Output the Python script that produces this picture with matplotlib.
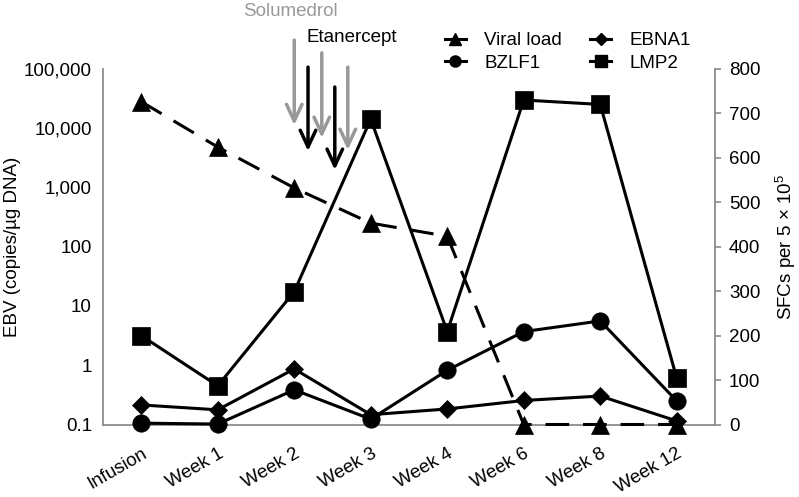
import matplotlib
matplotlib.use("Agg")
import matplotlib.pyplot as plt
from matplotlib.lines import Line2D
from matplotlib.ticker import FixedLocator, FuncFormatter

plt.rcParams['font.family'] = ['Liberation Sans', 'DejaVu Sans']
plt.rcParams['mathtext.default'] = 'regular'
plt.rcParams['lines.scale_dashes'] = False

categories = ["Infusion", "Week 1", "Week 2", "Week 3", "Week 4", "Week 6", "Week 8", "Week 12"]
viral_load = [28000, 4800, 980, 250, 150, 0.1, 0.1, 0.1]
ebna1 = [44, 33, 125, 22, 35, 54, 64, 8]
bzlf1 = [3, 1, 78, 12, 122, 209, 233, 53]
lmp2 = [200, 87, 299, 687, 209, 730, 720, 104]

left_ticks = [0.1, 1, 10, 100, 1000, 10000, 100000]
right_ticks = [0, 100, 200, 300, 400, 500, 600, 700, 800]

FS = 13.5
GRAY = '#8c8c8c'

fig = plt.figure(figsize=(7.99, 4.97), dpi=100)
ax1 = fig.add_axes([103/799, 1 - 424.5/497, (715-103)/799, (424.5-68.9)/497])
ax2 = ax1.twinx()

lw = 2.2
ax1.plot(categories, viral_load, color='black', lw=lw, dashes=(17, 10),
         marker='^', ms=12.5, mew=0.5, clip_on=False, zorder=3)
ax1.set_yscale('log')
ax1.set_ylim(0.1, 100000)
ax1.set_xlim(-0.5, len(categories) - 0.5)
ax1.yaxis.set_major_locator(FixedLocator(left_ticks))
ax1.yaxis.set_minor_locator(FixedLocator([]))
ax1.yaxis.set_major_formatter(FuncFormatter(lambda v, p: ('%g' % v) if v < 1 else f"{int(round(v)):,}"))

ax2.plot(categories, lmp2, color='black', lw=lw, marker='s', ms=12.5, mew=0.5, clip_on=False, zorder=3)
ax2.plot(categories, bzlf1, color='black', lw=lw, marker='o', ms=12.5, mew=0.5, clip_on=False, zorder=3)
ax2.plot(categories, ebna1, color='black', lw=lw, marker='D', ms=9, mew=0.5, clip_on=False, zorder=3)
ax2.set_ylim(0, 800)
ax2.set_yticks(right_ticks)

for ax in (ax1, ax2):
    ax.spines['top'].set_visible(False)
    for s in ('left', 'right', 'bottom'):
        ax.spines[s].set_color(GRAY)
        ax.spines[s].set_linewidth(1.3)
ax1.spines['right'].set_visible(False)
ax2.spines['left'].set_visible(False)
ax2.spines['bottom'].set_visible(False)

ax1.tick_params(axis='y', which='both', length=0, pad=8, labelsize=FS)
ax2.tick_params(axis='y', length=4, width=1.2, color=GRAY, direction='out', pad=6, labelsize=FS)
ax1.tick_params(axis='x', length=0, pad=15, labelsize=FS)
for lab in ax1.get_xticklabels():
    lab.set_rotation(30)
    lab.set_ha('right')
    lab.set_va('top')
    lab.set_rotation_mode('anchor')

ax1.set_ylabel('EBV (copies/\u00b5g DNA)', fontsize=FS)
ax1.yaxis.set_label_coords(-0.134, 0.5)
ax2.set_ylabel('SFCs per 5 \u00d7 10$^5$', fontsize=FS)
ax2.yaxis.set_label_coords(1.097, 0.5)

# Treatment arrows
arrow_x = [2.0, 2.18, 2.36, 2.53, 2.70]
arrow_top = [1.081, 1.005, 1.045, 0.949, 1.005]
arrow_tip = [0.842, 0.769, 0.806, 0.716, 0.772]
arrow_col = ['#999999', 'black', '#999999', 'black', '#999999']
for x, yt, yb, c in zip(arrow_x, arrow_top, arrow_tip, arrow_col):
    ax2.annotate('', xy=(x, yb), xytext=(x, yt), xycoords=('data', 'axes fraction'),
                 textcoords=('data', 'axes fraction'), annotation_clip=False,
                 arrowprops=dict(arrowstyle='->,head_length=0.6,head_width=0.28',
                                 lw=2.5, color=c, shrinkA=0, shrinkB=0, mutation_scale=20))

fig.text(243/799, 1 - 12/497, 'Solumedrol', color='#999999', fontsize=FS, ha='left', va='center')
fig.text(307/799, 1 - 38/497, 'Etanercept', color='black', fontsize=FS, ha='left', va='center')

handles = [
    Line2D([], [], color='black', lw=2.2, marker='^', ms=8),
    Line2D([], [], color='black', lw=2.2, marker='o', ms=8),
    Line2D([], [], color='black', lw=2.2, marker='D', ms=6),
    Line2D([], [], color='black', lw=2.2, marker='s', ms=8),
]
labels = ['Viral load', 'BZLF1', 'EBNA1', 'LMP2']
fig.legend(handles, labels, ncol=2, loc='upper left', bbox_to_anchor=(445/799, 1 - 32/497),
           bbox_transform=fig.transFigure, frameon=False, fontsize=FS, borderpad=0,
           borderaxespad=0, handlelength=1.1, handletextpad=1.0, columnspacing=1.5,
           labelspacing=0.3)

fig.savefig('out.png', dpi=100)
